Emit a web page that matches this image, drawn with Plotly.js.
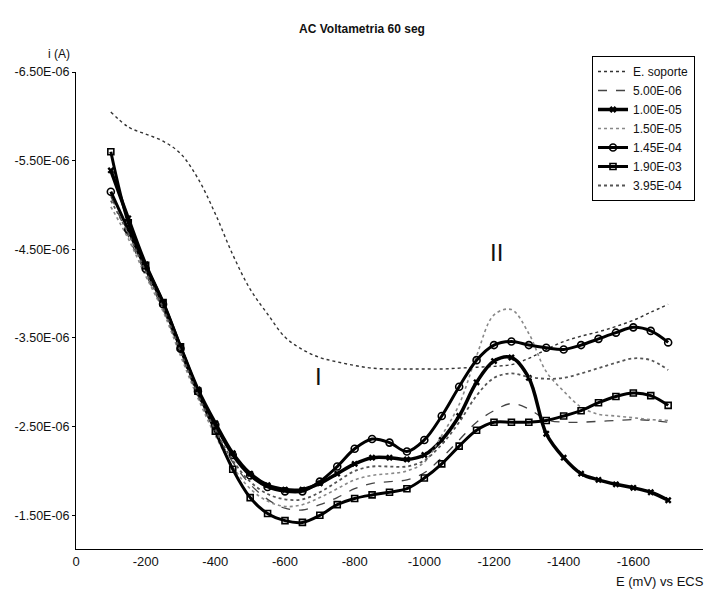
<!DOCTYPE html>
<html>
<head>
<meta charset="utf-8">
<script src="https://cdn.plot.ly/plotly-3.0.1.min.js"></script>
<style>html,body{margin:0;padding:0;background:#fff}#chart{width:719px;height:593px}</style>
</head>
<body>
<div id="chart"></div>
<script>
// Potential E (mV vs ECS)
const E_mV = [-100,-150,-200,-250,-300,-350,-400,-450,-500,-550,-600,-650,-700,-750,-800,-850,-900,-950,-1000,-1050,-1100,-1150,-1200,-1250,-1300,-1350,-1400,-1450,-1500,-1550,-1600,-1650,-1700];

// Currents, in microamperes (converted to A below)
const soporte_uA = [-6.05,-5.88,-5.80,-5.72,-5.58,-5.30,-4.90,-4.44,-4.05,-3.77,-3.51,-3.37,-3.28,-3.23,-3.19,-3.16,-3.15,-3.15,-3.15,-3.15,-3.16,-3.17,-3.18,-3.20,-3.27,-3.37,-3.46,-3.52,-3.57,-3.63,-3.70,-3.79,-3.88];
const c500E06_uA = [-5.10,-4.65,-4.22,-3.82,-3.33,-2.85,-2.44,-2.10,-1.85,-1.68,-1.58,-1.56,-1.62,-1.70,-1.80,-1.86,-1.88,-1.90,-1.98,-2.15,-2.35,-2.55,-2.68,-2.76,-2.70,-2.58,-2.55,-2.55,-2.56,-2.57,-2.58,-2.57,-2.55];
const c100E05_uA = [-5.39,-4.85,-4.33,-3.90,-3.40,-2.92,-2.54,-2.20,-1.97,-1.84,-1.79,-1.79,-1.86,-1.97,-2.08,-2.15,-2.15,-2.13,-2.18,-2.35,-2.62,-3.00,-3.24,-3.28,-3.05,-2.42,-2.15,-1.97,-1.90,-1.85,-1.81,-1.76,-1.67];
const c150E05_uA = [-4.98,-4.62,-4.20,-3.80,-3.30,-2.82,-2.40,-2.05,-1.80,-1.66,-1.60,-1.62,-1.70,-1.80,-1.90,-1.95,-1.97,-2.00,-2.10,-2.40,-2.75,-3.30,-3.76,-3.82,-3.55,-3.12,-2.90,-2.72,-2.64,-2.62,-2.60,-2.58,-2.57];
const c145E04_uA = [-5.15,-4.72,-4.28,-3.88,-3.38,-2.90,-2.52,-2.18,-1.95,-1.82,-1.77,-1.77,-1.88,-2.05,-2.25,-2.36,-2.32,-2.22,-2.35,-2.62,-2.95,-3.25,-3.42,-3.46,-3.42,-3.39,-3.37,-3.42,-3.49,-3.56,-3.62,-3.58,-3.45];
const c190E03_uA = [-5.60,-4.80,-4.32,-3.90,-3.40,-2.90,-2.45,-2.02,-1.70,-1.52,-1.44,-1.42,-1.50,-1.62,-1.69,-1.73,-1.76,-1.80,-1.92,-2.08,-2.28,-2.46,-2.55,-2.55,-2.55,-2.57,-2.62,-2.68,-2.77,-2.84,-2.88,-2.85,-2.74];
const c395E04_uA = [-5.05,-4.68,-4.25,-3.84,-3.35,-2.86,-2.46,-2.12,-1.88,-1.74,-1.68,-1.68,-1.76,-1.88,-2.00,-2.05,-2.05,-2.05,-2.12,-2.30,-2.55,-2.85,-3.05,-3.10,-3.06,-3.04,-3.05,-3.10,-3.16,-3.22,-3.27,-3.25,-3.14];

const seriesNames = ["E. soporte","5.00E-06","1.00E-05","1.50E-05","1.45E-04","1.90E-03","3.95E-04"];

const xTickVals = [0,-200,-400,-600,-800,-1000,-1200,-1400,-1600,-1800];
const xTickText = ["0","-200","-400","-600","-800","-1000","-1200","-1400","-1600","-1800"];
const yTickVals = [-6.5e-6,-5.5e-6,-4.5e-6,-3.5e-6,-2.5e-6,-1.5e-6];
const yTickText = ["-6.50E-06","-5.50E-06","-4.50E-06","-3.50E-06","-2.50E-06","-1.50E-06"];

const toA = arr => arr.map(v => v * 1e-6);
const FONT = "Liberation Sans, Arial, sans-serif";

function tr(name, data, style) {
  return Object.assign({type:'scatter', x:E_mV, y:toA(data), name:name}, style);
}

const traces = [
  tr(seriesNames[0], soporte_uA, {mode:'lines', line:{color:'#333', width:1.4, dash:'dot', shape:'spline'}}),
  tr(seriesNames[1], c500E06_uA, {mode:'lines', line:{color:'#444', width:1.3, dash:'dash', shape:'spline'}}),
  tr(seriesNames[2], c100E05_uA, {mode:'lines+markers', line:{color:'#000', width:3.5, shape:'spline'}, marker:{symbol:'x', size:6, color:'#000'}}),
  tr(seriesNames[3], c150E05_uA, {mode:'lines', line:{color:'#888', width:1.6, dash:'dot', shape:'spline'}}),
  tr(seriesNames[4], c145E04_uA, {mode:'lines+markers', line:{color:'#000', width:3, shape:'spline'}, marker:{symbol:'circle-open', size:7, color:'#000', line:{width:1.6}}}),
  tr(seriesNames[5], c190E03_uA, {mode:'lines+markers', line:{color:'#000', width:3, shape:'spline'}, marker:{symbol:'square-open', size:6, color:'#000', line:{width:1.6}}}),
  tr(seriesNames[6], c395E04_uA, {mode:'lines', line:{color:'#555', width:1.8, dash:'dot', shape:'spline'}})
];

const layout = {
  width:719, height:593,
  margin:{l:76, r:16, t:72, b:44},
  paper_bgcolor:'#fff', plot_bgcolor:'#fff',
  font:{family:FONT, size:12, color:'#111'},
  title:{text:'<b>AC Voltametria 60 seg</b>', font:{family:FONT, size:12, color:'#111'},
         x:362/719, xanchor:'center', xref:'container', y:1-29/593, yref:'container', yanchor:'middle'},
  xaxis:{range:[0,-1800], tickmode:'array', tickvals:xTickVals, ticktext:xTickText,
         showgrid:false, zeroline:false, showline:true, linecolor:'#000', linewidth:1,
         ticks:'', tickfont:{family:FONT, size:13, color:'#111'}},
  yaxis:{range:[-1.12e-6,-6.5e-6], tickmode:'array', tickvals:yTickVals, ticktext:yTickText,
         showgrid:false, zeroline:false, showline:true, linecolor:'#000', linewidth:1,
         ticks:'outside', ticklen:3, tickcolor:'#000', tickfont:{family:FONT, size:12.5, color:'#111'}},
  showlegend:true,
  legend:{x:(592-76)/627, y:(549-56)/477, xanchor:'left', yanchor:'top',
          bgcolor:'#fff', bordercolor:'#000', borderwidth:1,
          font:{family:FONT, size:12, color:'#111'}, itemwidth:30, tracegroupgap:0},
  annotations:[
    {text:'i (A)', xref:'paper', yref:'paper', x:(46-76)/627, y:(549-45)/477, showarrow:false, font:{family:FONT, size:12, color:'#111'}},
    {text:'E (mV) vs ECS', xref:'paper', yref:'paper', x:(706-76)/627, y:(549-581)/477, xanchor:'right', yanchor:'middle', showarrow:false, font:{family:FONT, size:13, color:'#111'}},
    {text:'I', xref:'paper', yref:'paper', x:(318-76)/627, y:(549-392)/477, showarrow:false, font:{family:FONT, size:24, color:'#111'}},
    {text:'II', xref:'paper', yref:'paper', x:(505-76)/627, y:(549-252)/477, showarrow:false, font:{family:FONT, size:24, color:'#111'}}
  ]
};

Plotly.newPlot('chart', traces, layout, {staticPlot:true, displayModeBar:false});
</script>
</body>
</html>
